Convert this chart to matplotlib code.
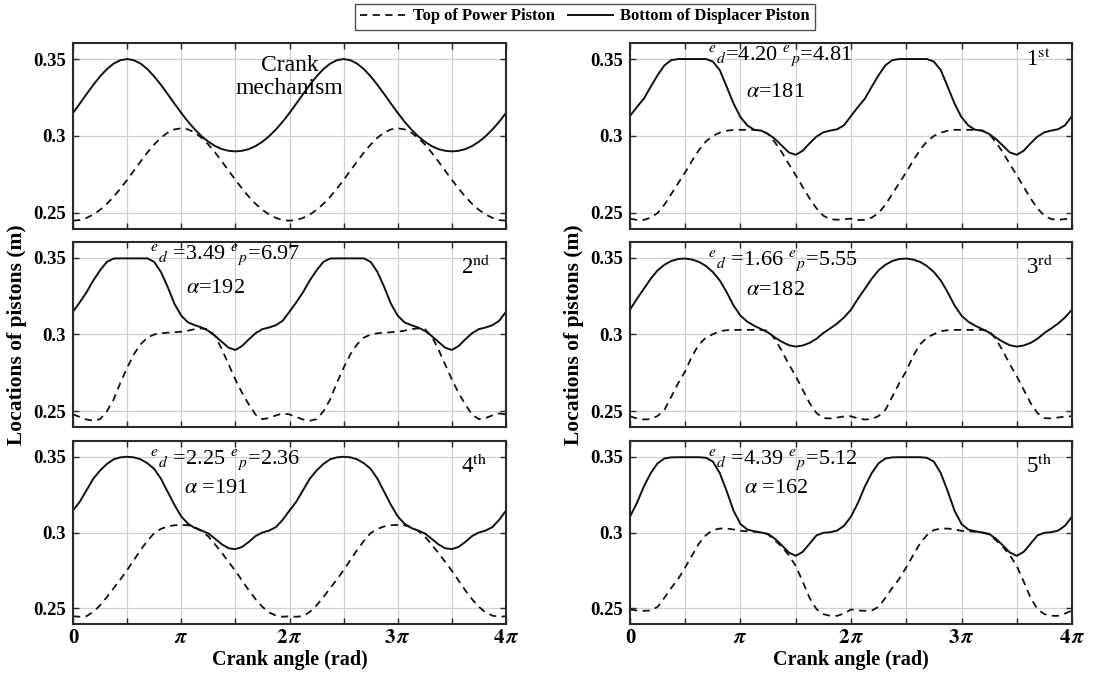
"""
Piston positions over two crank revolutions: crank mechanism vs. five optimized cases
"""

import numpy as np
import matplotlib
matplotlib.use('Agg')
import matplotlib.pyplot as plt

plt.rcParams['font.family'] = ['Liberation Serif', 'DejaVu Serif']
plt.rcParams['mathtext.fontset'] = 'stix'

crank_disp = [0.3150, 0.3210, 0.3272, 0.3332, 0.3387, 0.3434, 0.3470, 0.3492, 0.3500,
              0.3492, 0.3470, 0.3434, 0.3387, 0.3332, 0.3272, 0.3210, 0.3150, 0.3093,
              0.3043, 0.2999, 0.2963, 0.2935, 0.2915, 0.2904, 0.2900, 0.2904, 0.2915,
              0.2935, 0.2963, 0.2999, 0.3043, 0.3093, 0.3150]
crank_power = [0.2450, 0.2454, 0.2468, 0.2490, 0.2520, 0.2559, 0.2605, 0.2658, 0.2715,
               0.2775, 0.2835, 0.2893, 0.2945, 0.2989, 0.3022, 0.3043, 0.3050, 0.3043,
               0.3022, 0.2989, 0.2945, 0.2893, 0.2835, 0.2775, 0.2715, 0.2658, 0.2605,
               0.2559, 0.2520, 0.2490, 0.2468, 0.2454, 0.2450]

case1_disp = [0.3130, 0.3188, 0.3242, 0.3320, 0.3395, 0.3460, 0.3493, 0.3500, 0.3500,
              0.3500, 0.3500, 0.3500, 0.3483, 0.3428, 0.3320, 0.3210, 0.3122, 0.3068,
              0.3040, 0.3035, 0.3013, 0.2980, 0.2937, 0.2893, 0.2878, 0.2904, 0.2952,
              0.2996, 0.3024, 0.3035, 0.3044, 0.3070, 0.3130]
case1_power = [0.2463, 0.2455, 0.2455, 0.2470, 0.2500, 0.2555, 0.2625, 0.2695, 0.2765,
               0.2840, 0.2910, 0.2965, 0.3000, 0.3022, 0.3034, 0.3040, 0.3040, 0.3040,
               0.3040, 0.3035, 0.3013, 0.2958, 0.2893, 0.2817, 0.2745, 0.2670, 0.2595,
               0.2530, 0.2482, 0.2460, 0.2456, 0.2460, 0.2463]

case2_disp = [0.3149, 0.3210, 0.3276, 0.3353, 0.3419, 0.3474, 0.3496, 0.3497, 0.3497,
              0.3497, 0.3497, 0.3497, 0.3474, 0.3408, 0.3310, 0.3200, 0.3123, 0.3079,
              0.3061, 0.3046, 0.3024, 0.2991, 0.2952, 0.2914, 0.2899, 0.2925, 0.2969,
              0.3009, 0.3035, 0.3046, 0.3061, 0.3090, 0.3149]
case2_power = [0.2478, 0.2462, 0.2445, 0.2437, 0.2447, 0.2498, 0.2575, 0.2684, 0.2783,
               0.2871, 0.2936, 0.2980, 0.3000, 0.3008, 0.3012, 0.3015, 0.3018, 0.3025,
               0.3035, 0.3040, 0.3035, 0.2991, 0.2904, 0.2805, 0.2706, 0.2618, 0.2542,
               0.2476, 0.2447, 0.2455, 0.2472, 0.2485, 0.2478]

case3_disp = [0.3162, 0.3233, 0.3298, 0.3364, 0.3419, 0.3456, 0.3480, 0.3493, 0.3496,
              0.3489, 0.3474, 0.3447, 0.3408, 0.3353, 0.3276, 0.3189, 0.3123, 0.3083,
              0.3057, 0.3035, 0.3013, 0.2980, 0.2952, 0.2930, 0.2921, 0.2928, 0.2945,
              0.2972, 0.3010, 0.3040, 0.3072, 0.3112, 0.3162]
case3_power = [0.2466, 0.2452, 0.2445, 0.2447, 0.2468, 0.2509, 0.2596, 0.2684, 0.2761,
               0.2860, 0.2936, 0.2980, 0.3002, 0.3022, 0.3028, 0.3030, 0.3030, 0.3030,
               0.3030, 0.3030, 0.3025, 0.2969, 0.2892, 0.2805, 0.2728, 0.2640, 0.2553,
               0.2487, 0.2454, 0.2452, 0.2458, 0.2465, 0.2466]

case4_disp = [0.3145, 0.3203, 0.3279, 0.3355, 0.3409, 0.3452, 0.3483, 0.3496, 0.3500,
              0.3496, 0.3483, 0.3457, 0.3420, 0.3355, 0.3268, 0.3182, 0.3106, 0.3058,
              0.3030, 0.3013, 0.2994, 0.2959, 0.2922, 0.2896, 0.2890, 0.2905, 0.2938,
              0.2977, 0.3000, 0.3013, 0.3036, 0.3084, 0.3145]
case4_power = [0.2447, 0.2444, 0.2448, 0.2476, 0.2519, 0.2573, 0.2632, 0.2690, 0.2752,
               0.2818, 0.2885, 0.2945, 0.2996, 0.3024, 0.3040, 0.3048, 0.3050, 0.3048,
               0.3035, 0.3011, 0.2974, 0.2921, 0.2866, 0.2806, 0.2747, 0.2682, 0.2617,
               0.2559, 0.2509, 0.2472, 0.2451, 0.2444, 0.2447]

case5_disp = [0.3105, 0.3195, 0.3303, 0.3392, 0.3457, 0.3489, 0.3496, 0.3497, 0.3497,
              0.3497, 0.3497, 0.3493, 0.3468, 0.3392, 0.3273, 0.3143, 0.3056, 0.3019,
              0.3008, 0.3000, 0.2991, 0.2958, 0.2915, 0.2868, 0.2846, 0.2872, 0.2926,
              0.2981, 0.2998, 0.3002, 0.3013, 0.3045, 0.3105]
case5_power = [0.2492, 0.2485, 0.2483, 0.2485, 0.2509, 0.2570, 0.2636, 0.2695, 0.2770,
               0.2850, 0.2929, 0.2983, 0.3016, 0.3026, 0.3026, 0.3020, 0.3011, 0.3008,
               0.3005, 0.3000, 0.2987, 0.2948, 0.2905, 0.2850, 0.2779, 0.2677, 0.2569,
               0.2494, 0.2461, 0.2450, 0.2450, 0.2465, 0.2485]

case_names = ['1', '2', '3', '4', '5']
case_suffix = ['st', 'nd', 'rd', 'th', 'th']
e_d = ['4.20', '3.49', '1.66', '2.25', '4.39']
e_p = ['4.81', '6.97', '5.55', '2.36', '5.12']
alpha = ['181', '192', '182', '191', '162']

x_tick_labels = ['0', r'$\boldsymbol{\pi}$', r'$\mathbf{2}\,\boldsymbol{\pi}$',
                 r'$\mathbf{3}\,\boldsymbol{\pi}$', r'$\mathbf{4}\,\boldsymbol{\pi}$']
y_ticks = [0.25, 0.3, 0.35]
y_tick_labels = ['0.25', '0.3', '0.35']

# sample angles for two revolutions
crank_angle = np.arange(65) * np.pi / 16


def two_revs(one_rev):
    """the cycle repeats: stitch one revolution twice"""
    return np.concatenate([one_rev[:-1], one_rev])


W, H = 1109, 676
fig = plt.figure(figsize=(W / 100, H / 100), dpi=100)

# axes boxes in pixels: (left, right) per column, (top, bottom) per row
cols = [(73, 506), (630, 1072)]
rows = [(43, 229), (242, 427), (441, 624)]

panels = [
    (crank_power, crank_disp, None),
    (case1_power, case1_disp, 0),
    (case2_power, case2_disp, 1),
    (case3_power, case3_disp, 2),
    (case4_power, case4_disp, 3),
    (case5_power, case5_disp, 4),
]
e_y = [0.3495, 0.349, 0.3455, 0.3455, 0.3455]
a_y = [0.3255, 0.327, 0.326, 0.326, 0.326]
rank_y = [0.3455, 0.3395, 0.3395, 0.3395, 0.3395]

spine_col = '#2a2a2a'
axes = []
for i, (pw, dp, ci) in enumerate(panels):
    r, c = divmod(i, 2)
    l, rr = cols[c]
    t, b = rows[r]
    ax = fig.add_axes([l / W, 1 - b / H, (rr - l) / W, (b - t) / H])
    axes.append(ax)

    ax.plot(crank_angle, two_revs(pw), color='#111111', lw=1.3, ls=(0, (4, 3)),
            label='Top of Power Piston')
    ax.plot(crank_angle, two_revs(dp), color='#111111', lw=1.4,
            label='Bottom of Displacer Piston')

    ax.set_xlim(0, 4 * np.pi)
    ax.set_ylim(0.2396, 0.3604)
    ax.set_xticks(np.arange(9) * np.pi / 2)
    if r == 2:
        labels = [x_tick_labels[k // 2] if k % 2 == 0 else '' for k in range(9)]
        ax.set_xticklabels(labels, fontsize=15, fontweight='bold')
        ax.set_xlabel('Crank angle (rad)', fontsize=14.5, fontweight='bold', labelpad=1)
    else:
        ax.set_xticklabels([])
    ax.set_yticks(y_ticks)
    ax.set_yticklabels(y_tick_labels, fontsize=13.5, fontweight='bold')
    ax.tick_params(direction='in', top=True, right=True, length=4, width=1.0,
                   color=spine_col, pad=3)
    ax.tick_params(axis='y', pad=5)
    ax.grid(True, color='#d0d0d0', lw=0.9)
    ax.set_axisbelow(True)
    for s in ax.spines.values():
        s.set_linewidth(1.5)
        s.set_color(spine_col)

    if ci is None:
        ax.text(2.0 * np.pi, 0.3385, 'Crank\nmechanism', ha='center', va='center',
                fontsize=17, linespacing=1.15)
    else:
        sp = '' if ci == 0 else ' '
        ax.text(0.71 * np.pi, e_y[ci],
                r'${}^{e}{}_{d}$' + sp + '=' + e_d[ci] + r' ${}^{e}{}_{p}$=' + e_p[ci],
                ha='left', va='baseline', fontsize=16)
        asp = '' if ci < 3 else ' '
        ax.text(1.32 * np.pi, a_y[ci], r'$\alpha$' + asp + '=' + alpha[ci],
                ha='center', va='baseline', fontsize=16)
        ax.text(3.58 * np.pi, rank_y[ci],
                case_names[ci] + r'$^{\mathrm{' + case_suffix[ci] + '}}$',
                ha='left', va='baseline', fontsize=16.5)

# shared y labels
fig.text(17 / W, 0.505, 'Locations of pistons (m)', rotation=90, ha='center',
         va='center', fontsize=15.5, fontweight='bold')
fig.text(574 / W, 0.505, 'Locations of pistons (m)', rotation=90, ha='center',
         va='center', fontsize=15.5, fontweight='bold')

handles, labels = axes[0].get_legend_handles_labels()
leg = fig.legend(handles, labels, loc='center', bbox_to_anchor=(585 / W, 1 - 16.5 / H),
                 ncol=2, frameon=True, fancybox=False, handlelength=2.7,
                 borderpad=0.3, borderaxespad=0.2, columnspacing=0.8,
                 handletextpad=0.45, prop={'weight': 'bold', 'size': 12})
leg.get_frame().set_edgecolor('#222222')
leg.get_frame().set_linewidth(1.0)

plt.savefig('out.png', dpi=100)
